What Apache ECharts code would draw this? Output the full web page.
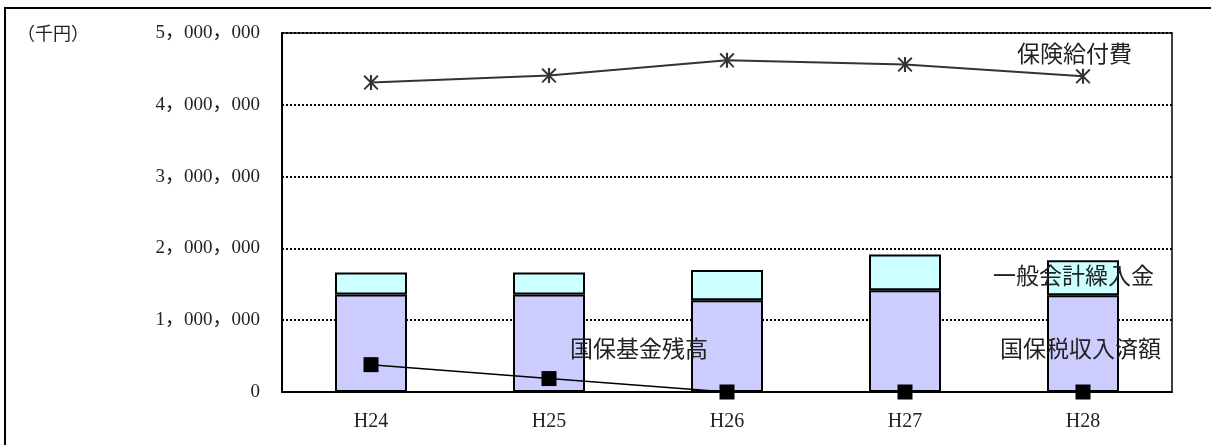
<!DOCTYPE html>
<html>
<head>
<meta charset="utf-8">
<script src="https://cdn.jsdelivr.net/npm/echarts@6/dist/echarts.min.js"></script>
<style>
  html, body { margin: 0; padding: 0; background: #fff; }
  #chart { width: 1211px; height: 445px; }
</style>
</head>
<body>
<div id="chart"></div>
<script>
// 年度
const categories = ['H24', 'H25', 'H26', 'H27', 'H28'];
// 国保税収入済額（千円）
const taxRevenue = [1357000, 1357000, 1277000, 1416000, 1347000];
// 一般会計繰入金（千円）
const generalTransfer = [306000, 306000, 422000, 498000, 487000];
// 国保基金残高（千円）
const fundBalance = [381000, 187000, 0, 0, 0];
// 保険給付費（千円）
const benefits = [4309000, 4407000, 4620000, 4560000, 4397000];
// 縦軸目盛
const yTicks = [0, 1000000, 2000000, 3000000, 4000000, 5000000];

const labelFont = '"Noto Sans CJK JP", sans-serif';
const numFont = '"Liberation Serif", "Noto Sans CJK JP", serif';

// 「5，000，000」形式の目盛ラベル
function fmt(v) {
  if (v === 0) return '0';
  return String(v).replace(/\B(?=(\d{3})+(?!\d))/g, '，');
}

// アスタリスク型マーカー（縦線＋X）
const asterisk = 'path://M43,0 L57,0 L57,100 L43,100 Z M0,9 L9,0 L100,91 L91,100 Z M91,0 L100,9 L9,100 L0,91 Z';

const chart = echarts.init(document.getElementById('chart'), null, { renderer: 'canvas' });

chart.setOption({
  animation: false,
  backgroundColor: '#fff',
  grid: {
    left: 282, right: 39, top: 33, bottom: 53,
    show: true, borderColor: '#000', borderWidth: 1.5, backgroundColor: 'transparent'
  },
  xAxis: {
    type: 'category',
    data: categories,
    boundaryGap: true,
    axisLine: { lineStyle: { color: '#000', width: 2 } },
    axisTick: { inside: true, length: 6, lineStyle: { color: '#000', width: 1.5 } },
    axisLabel: { color: '#222', fontFamily: numFont, fontSize: 20, margin: 20 }
  },
  yAxis: {
    type: 'value',
    min: yTicks[0],
    max: yTicks[yTicks.length - 1],
    interval: yTicks[1] - yTicks[0],
    axisLine: { show: true, lineStyle: { color: '#000', width: 2 } },
    axisTick: { show: false },
    splitLine: { lineStyle: { color: '#000', width: 2, type: [2, 2] } },
    axisLabel: { color: '#222', fontFamily: numFont, fontSize: 19, margin: 22, formatter: fmt }
  },
  series: [
    {
      name: '国保税収入済額',
      type: 'bar',
      stack: 'revenue',
      data: taxRevenue,
      barWidth: 72,
      itemStyle: { color: '#CCCCFF', borderColor: '#000', borderWidth: 2 },
      z: 2
    },
    {
      name: '一般会計繰入金',
      type: 'bar',
      stack: 'revenue',
      data: generalTransfer,
      barWidth: 72,
      itemStyle: { color: '#CCFFFF', borderColor: '#000', borderWidth: 2 },
      z: 2
    },
    {
      name: '国保基金残高',
      type: 'line',
      data: fundBalance,
      symbol: 'rect',
      symbolSize: 15,
      itemStyle: { color: '#000' },
      lineStyle: { color: '#000', width: 1.5 },
      z: 4
    },
    {
      name: '保険給付費',
      type: 'line',
      data: benefits,
      symbol: asterisk,
      symbolSize: 15,
      itemStyle: { color: '#333' },
      lineStyle: { color: '#333', width: 2 },
      z: 4
    }
  ],
  graphic: [
    {
      type: 'rect', z: 0, silent: true,
      shape: { x: 5, y: 8, width: 1230, height: 460 },
      style: { fill: 'none', stroke: '#000', lineWidth: 2 }
    },
    {
      type: 'text', z: 100, silent: true, x: 17, y: 33,
      style: { text: '（千円）', font: '18px ' + labelFont, fill: '#222', verticalAlign: 'middle' }
    },
    {
      type: 'text', z: 100, silent: true, x: 1017, y: 53,
      style: { text: '保険給付費', font: '23px ' + labelFont, fill: '#222', verticalAlign: 'middle' }
    },
    {
      type: 'text', z: 100, silent: true, x: 993, y: 275,
      style: { text: '一般会計繰入金', font: '23px ' + labelFont, fill: '#222', verticalAlign: 'middle' }
    },
    {
      type: 'text', z: 100, silent: true, x: 1000, y: 348,
      style: { text: '国保税収入済額', font: '23px ' + labelFont, fill: '#222', verticalAlign: 'middle' }
    },
    {
      type: 'text', z: 100, silent: true, x: 570, y: 348,
      style: { text: '国保基金残高', font: '23px ' + labelFont, fill: '#222', verticalAlign: 'middle' }
    }
  ]
});
</script>
</body>
</html>
